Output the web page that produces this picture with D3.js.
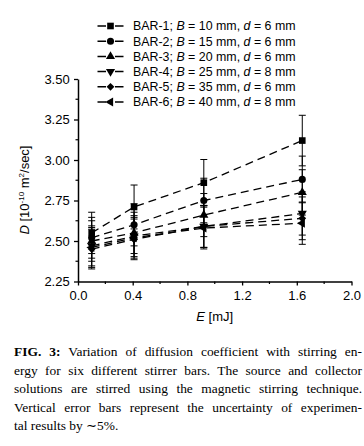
<!DOCTYPE html>
<html><head><meta charset="utf-8">
<script src="https://cdn.jsdelivr.net/npm/d3@7"></script>
<style>body{margin:0;background:#fff}svg{display:block}</style>
</head><body>
<svg id="c" width="364" height="446"></svg>
<script>
const energies = [0.1, 0.41, 0.92, 1.64];
const seriesNames = ["BAR-1","BAR-2","BAR-3","BAR-4","BAR-5","BAR-6"];
const seriesB = [10, 15, 20, 25, 35, 40];
const seriesD = [6, 6, 6, 8, 6, 8];
const bar1 = [2.55, 2.71, 2.86, 3.12];
const bar2 = [2.52, 2.60, 2.75, 2.88];
const bar3 = [2.50, 2.55, 2.66, 2.80];
const bar4 = [2.47, 2.53, 2.59, 2.67];
const bar5 = [2.45, 2.51, 2.59, 2.64];
const bar6 = [2.46, 2.52, 2.58, 2.61];
const errorFraction = 0.05;
const xTicks = [0.0, 0.4, 0.8, 1.2, 1.6, 2.0];
const yTicks = [2.25, 2.50, 2.75, 3.00, 3.25, 3.50];
const captionLines = [
 ["FIG. 3:", " Variation of diffusion coefficient with stirring en-"],
 ["", "ergy for six different stirrer bars. The source and collector"],
 ["", "solutions are stirred using the magnetic stirring technique."],
 ["", "Vertical error bars represent the uncertainty of experimen-"],
 ["", "tal results by \u223C5%."]
];

const seriesVals = [bar1, bar2, bar3, bar4, bar5, bar6];
const svg = d3.select("#c");
const x = d3.scaleLinear().domain([0, 2.0]).range([78, 351.5]);
const y = d3.scaleLinear().domain([2.25, 3.5]).range([281.5, 79]);
const sans = "'Liberation Sans', Arial, sans-serif";

// axes
const xAxis = d3.axisBottom(x).tickValues(xTicks).tickFormat(d3.format(".1f")).tickSize(4).tickSizeOuter(0);
const gx = svg.append("g").attr("transform", `translate(0,${y(2.25)})`).call(xAxis);
const yAxis = d3.axisLeft(y).tickValues(yTicks).tickFormat(d3.format(".2f")).tickSize(4).tickSizeOuter(0);
const gy = svg.append("g").attr("transform", `translate(${x(0)},0)`).call(yAxis);
[gx, gy].forEach(g => {
  g.select(".domain").attr("stroke", "#000").attr("stroke-width", 1.5);
  g.selectAll(".tick line").attr("stroke", "#000").attr("stroke-width", 1.3);
  g.selectAll(".tick text").attr("font-family", sans).attr("font-size", 13).attr("fill", "#000");
});
gx.selectAll(".tick text").attr("dy", "0.9em");
gy.selectAll(".tick text").attr("dx", "-0.1em");
// minor ticks
const xMinor = d3.range(0.2, 2.0, 0.4);
svg.append("g").selectAll("line").data(xMinor).join("line")
  .attr("x1", d => x(d)).attr("x2", d => x(d))
  .attr("y1", y(2.25)).attr("y2", y(2.25) + 2.5).attr("stroke", "#000").attr("stroke-width", 1.2);
const yMinor = [2.375, 2.625, 2.875, 3.125, 3.375];
svg.append("g").selectAll("line").data(yMinor).join("line")
  .attr("x1", x(0) - 2.5).attr("x2", x(0))
  .attr("y1", d => y(d)).attr("y2", d => y(d)).attr("stroke", "#000").attr("stroke-width", 1.2);

// axis labels
const yl = svg.append("text").attr("transform", `translate(29,190) rotate(-90)`)
  .attr("text-anchor", "middle").attr("font-family", sans).attr("font-size", 13);
yl.append("tspan").attr("font-style", "italic").text("D");
yl.append("tspan").text(" [10");
yl.append("tspan").attr("font-size", 8).attr("dy", -5).text("-10");
yl.append("tspan").attr("dy", 5).text(" m");
yl.append("tspan").attr("font-size", 8).attr("dy", -5).text("2");
yl.append("tspan").attr("dy", 5).text("/sec]");

const xl = svg.append("text").attr("x", (x(0)+x(2))/2).attr("y", 321)
  .attr("text-anchor", "middle").attr("font-family", sans).attr("font-size", 13);
xl.append("tspan").attr("font-style", "italic").text("E");
xl.append("tspan").text(" [mJ]");

// marker shapes
function marker(g, i, cx, cy) {
  let path, rot = 0;
  if (i === 0) path = d3.symbol(d3.symbolSquare, 44)();
  else if (i === 1) path = d3.symbol(d3.symbolCircle, 40)();
  else if (i === 2) path = d3.symbol(d3.symbolTriangle, 36)();
  else if (i === 3) { path = d3.symbol(d3.symbolTriangle, 36)(); rot = 180; }
  else if (i === 4) { path = d3.symbol(d3.symbolSquare, 30)(); rot = 45; }
  else { path = d3.symbol(d3.symbolTriangle, 36)(); rot = -90; }
  g.append("path").attr("d", path).attr("fill", "#000")
    .attr("transform", `translate(${cx},${cy}) rotate(${rot})`);
}

// series
const line = d3.line().x(d => x(d[0])).y(d => y(d[1]));
seriesVals.forEach((vals, i) => {
  const pts = energies.map((e, j) => [e, vals[j]]);
  const g = svg.append("g");
  g.append("path").attr("d", line(pts)).attr("fill", "none").attr("stroke", "#000")
    .attr("stroke-width", 1.3).attr("stroke-dasharray", "8,5");
  pts.forEach(p => {
    const lo = p[1] * (1 - errorFraction), hi = p[1] * (1 + errorFraction);
    g.append("line").attr("x1", x(p[0])).attr("x2", x(p[0])).attr("y1", y(lo)).attr("y2", y(hi))
      .attr("stroke", "#000").attr("stroke-width", 1);
    [lo, hi].forEach(v => g.append("line").attr("x1", x(p[0]) - 3.5).attr("x2", x(p[0]) + 3.5)
      .attr("y1", y(v)).attr("y2", y(v)).attr("stroke", "#000").attr("stroke-width", 1));
    marker(g, i, x(p[0]), y(p[1]));
  });
});

// legend
const legend = svg.append("g");
seriesNames.forEach((n, i) => {
  const ly = 26 + i * 15.2;
  legend.append("line").attr("x1", 97.5).attr("x2", 123.5).attr("y1", ly).attr("y2", ly)
    .attr("stroke", "#000").attr("stroke-width", 1.5).attr("stroke-dasharray", "8.5,9");
  marker(legend, i, 110.5, ly);
  const t = legend.append("text").attr("x", 133).attr("y", ly + 4.3)
    .attr("font-family", sans).attr("font-size", 12.4);
  t.append("tspan").text(n + "; ");
  t.append("tspan").attr("font-style", "italic").text("B");
  t.append("tspan").text(` = ${seriesB[i]} mm, `);
  t.append("tspan").attr("font-style", "italic").text("d");
  t.append("tspan").text(` = ${seriesD[i]} mm`);
});

// caption
const serif = "'Liberation Serif', 'Times New Roman', serif";
captionLines.forEach((ln, i) => {
  const t = svg.append("text").attr("x", 14).attr("y", 356 + i * 18.6)
    .attr("font-family", serif).attr("font-size", 13.45).attr("fill", "#000")
    .attr("xml:space", "preserve");
  if (ln[0]) t.append("tspan").attr("font-weight", "bold").text(ln[0]);
  t.append("tspan").text(ln[1]);
  if (i < captionLines.length - 1) {
    const w = t.node().getComputedTextLength();
    const spaces = (ln[0] + ln[1]).split(" ").length - 1;
    const extra = (362 - 14 - w) / spaces;
    t.attr("word-spacing", extra);
  }
});
</script>
</body></html>
